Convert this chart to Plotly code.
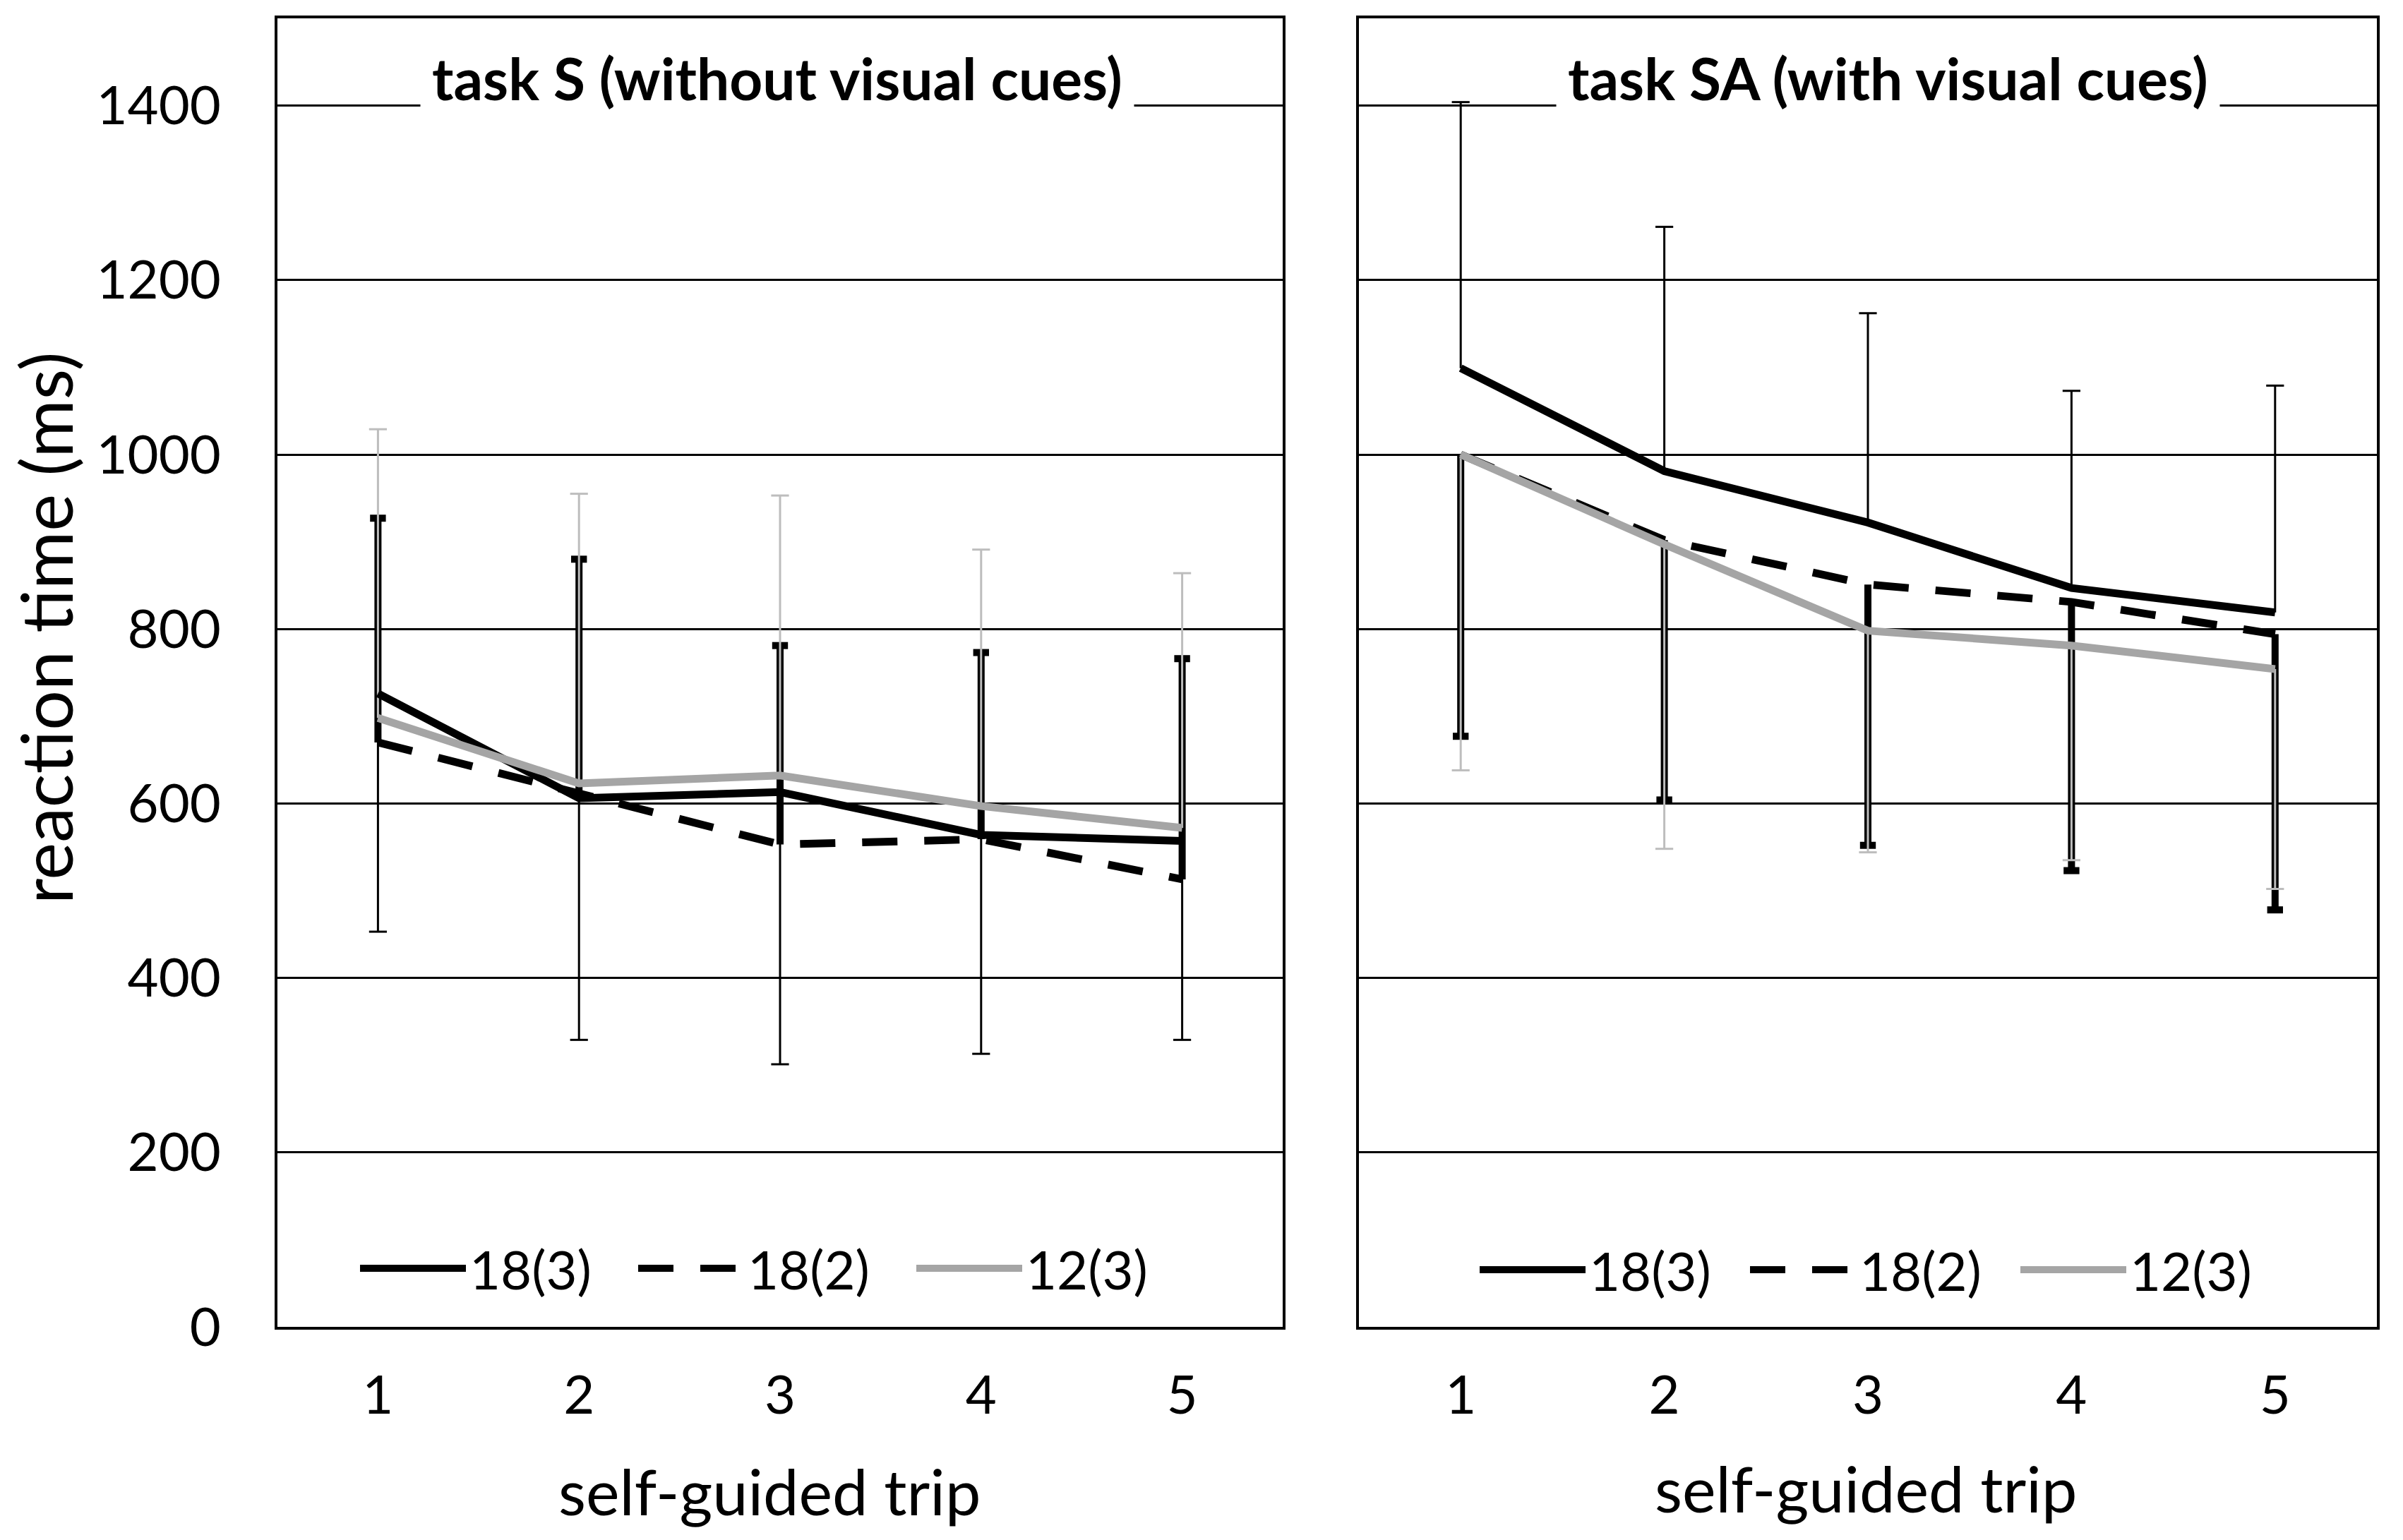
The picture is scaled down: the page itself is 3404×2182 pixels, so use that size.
import plotly.graph_objects as go

# ---------------- data ----------------
trips = [1, 2, 3, 4, 5]
series_names = ["18(3)", "18(2)", "12(3)"]
y_tick_vals = [0, 200, 400, 600, 800, 1000, 1200, 1400]

# task S (without visual cues): mean reaction time (ms) and SD
s_18_3_mean = [726, 606, 613, 564, 557]
s_18_3_sd = [273, 277, 312, 251, 228]
s_18_2_mean = [670, 611, 553, 559, 513]
s_18_2_sd = [257, 269, 228, 214, 253]
s_12_3_mean = [698, 623, 632, 597, 572]
s_12_3_sd = [331, 332, 321, 294, 292]

# task SA (with visual cues)
sa_18_3_mean = [1099, 981, 922, 847, 819]
sa_18_3_sd = [305, 280, 240, 226, 260]
sa_18_2_mean = [1000, 902, 851, 831, 794]
sa_18_2_sd = [323, 298, 299, 308, 316]
sa_12_3_mean = [1000, 897, 798, 781, 754]
sa_12_3_sd = [362, 349, 254, 246, 252]

# direction each error bar is drawn in (+1 up, -1 down), as in the figure
s_err_dir = {"18(3)": -1, "18(2)": 1, "12(3)": 1}
sa_err_dir = {"18(3)": 1, "18(2)": -1, "12(3)": -1}

panel_titles = ["task S (without visual cues)", "task SA (with visual cues)"]
x_title = "self-guided trip"
y_title = "reaction time (ms)"

# ---------------- styles ----------------
FONT = "Lato"
line_style = {
    "18(3)": dict(color="#000000", width=11, dash="solid"),
    "18(2)": dict(color="#000000", width=11, dash="50px,38px"),
    "12(3)": dict(color="#a5a5a5", width=11, dash="solid"),
}
err_style = {
    "18(3)": dict(color="#000000", thickness=3, capsize=18, capwidth=3),
    "18(2)": dict(color="#000000", thickness=10, capsize=16, capwidth=10),
    "12(3)": dict(color="#bdbdbd", thickness=3, capsize=18, capwidth=3),
}

panels = [
    dict(xa="x", ya="y", legend="legend", dirs=s_err_dir,
         data={"18(3)": (s_18_3_mean, s_18_3_sd),
               "18(2)": (s_18_2_mean, s_18_2_sd),
               "12(3)": (s_12_3_mean, s_12_3_sd)}),
    dict(xa="x2", ya="y2", legend="legend2", dirs=sa_err_dir,
         data={"18(3)": (sa_18_3_mean, sa_18_3_sd),
               "18(2)": (sa_18_2_mean, sa_18_2_sd),
               "12(3)": (sa_12_3_mean, sa_12_3_sd)}),
]

fig = go.Figure()

for p in panels:
    # error bars first (beneath the lines)
    for name in series_names:
        mean, sd = p["data"][name]
        d = p["dirs"][name]
        st = err_style[name]
        zeros = [0] * len(sd)
        fig.add_trace(go.Scatter(
            x=trips, y=mean, mode="markers",
            marker=dict(size=0, opacity=0),
            error_y=dict(type="data", symmetric=False,
                         array=sd if d > 0 else zeros,
                         arrayminus=sd if d < 0 else zeros,
                         width=0, thickness=st["thickness"], color=st["color"]),
            xaxis=p["xa"], yaxis=p["ya"], showlegend=False, hoverinfo="skip"))
        ends = [m + d * s for m, s in zip(mean, sd)]
        fig.add_trace(go.Scatter(
            x=trips, y=ends, mode="markers",
            marker=dict(symbol="line-ew", size=st["capsize"], color=st["color"],
                        line=dict(color=st["color"], width=st["capwidth"])),
            xaxis=p["xa"], yaxis=p["ya"], showlegend=False, hoverinfo="skip"))
    # lines
    for name in series_names:
        mean, sd = p["data"][name]
        fig.add_trace(go.Scatter(
            x=trips, y=mean, mode="lines", name=name,
            line=line_style[name],
            xaxis=p["xa"], yaxis=p["ya"], legend=p["legend"]))

# ---------------- layout ----------------
W, H = 3404, 2182
ML, MR, MT, MB = 393, 37, 26, 302
PW = W - ML - MR
PH = H - MT - MB


def px_x(px):
    return (px - ML) / PW


def px_y(py):
    return (H - MB - py) / PH


axis_common = dict(showline=True, linecolor="#000000", linewidth=4, mirror=True,
                   ticks="", zeroline=False)

fig.update_layout(
    width=W, height=H,
    margin=dict(l=ML, r=MR, t=MT, b=MB),
    paper_bgcolor="white", plot_bgcolor="white",
    font=dict(family=FONT, color="#000000", size=76),
    showlegend=True,
    xaxis=dict(domain=[0, px_x(1817)], range=[0.5, 5.5], tickvals=trips,
               showgrid=False, ticklabelstandoff=28,
               tickfont=dict(size=76), **axis_common),
    xaxis2=dict(domain=[px_x(1925), 1], range=[0.5, 5.5], tickvals=trips,
                showgrid=False, ticklabelstandoff=28,
                tickfont=dict(size=76), anchor="y2", **axis_common),
    yaxis=dict(range=[0, 1500], tickvals=y_tick_vals, showgrid=True,
               gridcolor="#000000", gridwidth=3, ticklabelstandoff=61,
               tickfont=dict(size=76), **axis_common),
    yaxis2=dict(range=[0, 1500], tickvals=y_tick_vals, showgrid=True,
                gridcolor="#000000", gridwidth=3, showticklabels=False,
                anchor="x2", **axis_common),
    legend=dict(orientation="h", x=px_x(505), y=px_y(1797), xanchor="left",
                yanchor="middle", itemwidth=150, entrywidth=229,
                font=dict(size=76), bgcolor="rgba(0,0,0,0)", traceorder="normal"),
    legend2=dict(orientation="h", x=px_x(2091), y=px_y(1799), xanchor="left",
                 yanchor="middle", itemwidth=150, entrywidth=218,
                 font=dict(size=76), bgcolor="rgba(0,0,0,0)", traceorder="normal"),
)

annotations = [
    dict(text="<b>" + panel_titles[0] + "</b>", xref="paper", yref="y",
         x=px_x(1101), y=1400, yshift=40, xanchor="center", yanchor="middle",
         showarrow=False, bgcolor="white", borderpad=16,
         font=dict(size=82, family=FONT)),
    dict(text="<b>" + panel_titles[1] + "</b>", xref="paper", yref="y2",
         x=px_x(2674), y=1400, yshift=40, xanchor="center", yanchor="middle",
         showarrow=False, bgcolor="white", borderpad=16,
         font=dict(size=82, family=FONT)),
    dict(text=x_title, xref="paper", yref="paper", x=px_x(1090), y=px_y(2112),
         xanchor="center", yanchor="middle", showarrow=False,
         font=dict(size=90, family=FONT)),
    dict(text=x_title, xref="paper", yref="paper", x=px_x(2643), y=px_y(2108),
         xanchor="center", yanchor="middle", showarrow=False,
         font=dict(size=90, family=FONT)),
    dict(text=y_title, xref="paper", yref="paper", x=px_x(64), y=px_y(890),
         xanchor="center", yanchor="middle", textangle=-90, showarrow=False,
         font=dict(size=100, family=FONT)),
]
fig.update_layout(annotations=annotations)

fig.write_html("out.html", config={"displayModeBar": False},
               post_script="document.body.style.margin='0';")
